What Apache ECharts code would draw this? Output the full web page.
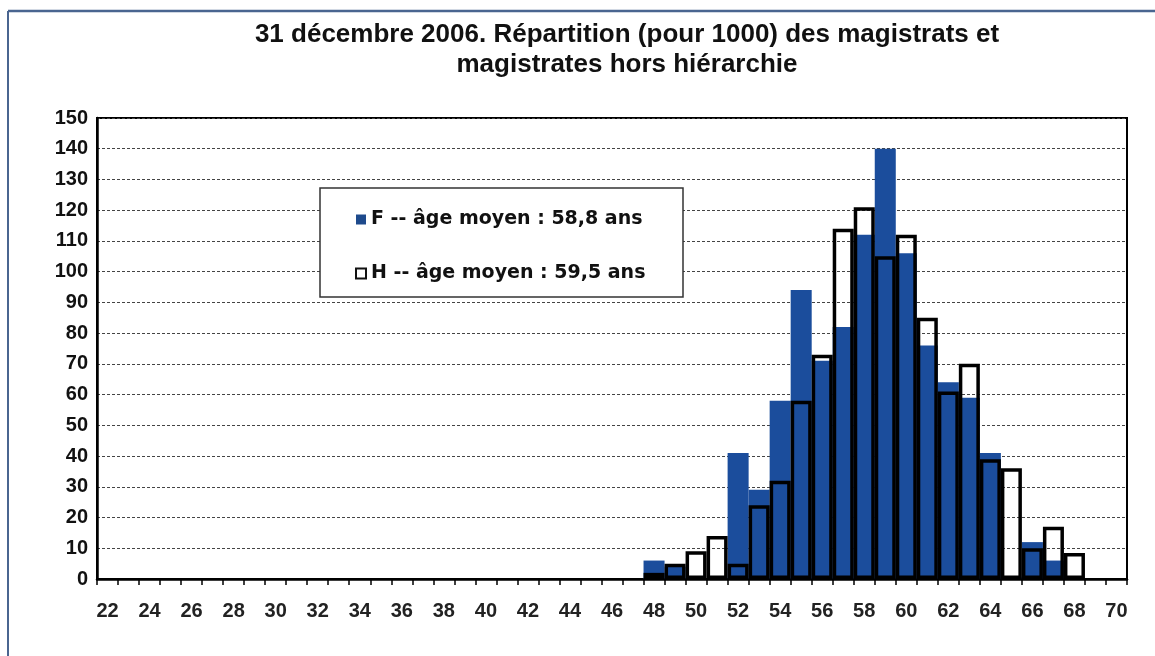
<!DOCTYPE html>
<html>
<head>
<meta charset="utf-8">
<script src="https://cdn.jsdelivr.net/npm/echarts@6/dist/echarts.min.js"></script>
<style>
  html, body { margin: 0; padding: 0; background: #fff; }
  #chart { width: 1155px; height: 656px; }
</style>
</head>
<body>
<div id="chart"></div>
<script>
// ages (one bar per year of age)
const ages = ["22", "23", "24", "25", "26", "27", "28", "29", "30", "31", "32", "33", "34", "35",
  "36", "37", "38", "39", "40", "41", "42", "43", "44", "45", "46", "47", "48", "49", "50", "51",
  "52", "53", "54", "55", "56", "57", "58", "59", "60", "61", "62", "63", "64", "65", "66", "67",
  "68", "69", "70"];

// per 1000, from 48 to 68 (null = no bar)
const femmes = [null, null, null, null, null, null, null, null, null, null, null, null, null, null,
  null, null, null, null, null, null, null, null, null, null, null, null,
  6, 4, 0, 0, 41, 29, 58, 94, 71, 82, 112, 140, 106, 76, 64, 59, 41, 0.5, 12, 6, 0,
  null, null];
const hommes = [null, null, null, null, null, null, null, null, null, null, null, null, null, null,
  null, null, null, null, null, null, null, null, null, null, null, null,
  2, 5, 9, 14, 5, 24, 32, 58, 73, 114, 121, 105, 112, 85, 61, 70, 39, 36, 10, 17, 8.5,
  null, null];

const yTicks = { min: 0, max: 150, interval: 10 };

const labelF = "F -- âge moyen : 58,8 ans";
const labelH = "H -- âge moyen : 59,5 ans";

const chart = echarts.init(document.getElementById("chart"));
const font = "Liberation Sans, Arial, sans-serif";

chart.setOption({
  backgroundColor: "#fff",
  animation: false,
  title: {
    text: "31 décembre 2006. Répartition (pour 1000) des magistrats et\nmagistrates hors hiérarchie",
    left: 622,
    top: 15,
    textAlign: "center",
    textStyle: { fontFamily: font, fontSize: 26, fontWeight: "bold", color: "#111", lineHeight: 30 },
  },
  graphic: [
    { type: "line", shape: { x1: 8, y1: 11, x2: 1155, y2: 11 }, style: { stroke: "#4a6590", lineWidth: 2.5 }, z: 10 },
    { type: "line", shape: { x1: 8, y1: 11, x2: 8, y2: 656 }, style: { stroke: "#4a6590", lineWidth: 2 }, z: 10 },
    {
      type: "rect",
      shape: { x: 320, y: 188, width: 363, height: 109 },
      style: { fill: "#fff", stroke: "#333", lineWidth: 1.5 },
      z: 3,
    },
  ],
  legend: {
    orient: "vertical",
    left: 350,
    top: 205,
    itemGap: 35,
    itemWidth: 10,
    itemHeight: 10,
    z: 5,
    textStyle: { fontFamily: "DejaVu Sans, sans-serif", fontSize: 19, fontWeight: "bold", color: "#111" },
    data: [
      { name: labelF, icon: "rect", itemStyle: { color: "#1e4a8c" } },
      { name: labelH, icon: "rect", itemStyle: { color: "#fff", borderColor: "#111", borderWidth: 2 } },
    ],
  },
  grid: {
    left: 97,
    right: 28,
    top: 118,
    bottom: 77,
    show: true,
    borderColor: "#000",
    borderWidth: 2,
    backgroundColor: "transparent",
  },
  xAxis: {
    type: "category",
    data: ages,
    boundaryGap: true,
    axisLine: { lineStyle: { color: "#000", width: 2.5 } },
    axisTick: { show: true, interval: 0, length: 6, lineStyle: { color: "#000", width: 1.5 } },
    axisLabel: {
      interval: 1,
      margin: 22,
      fontFamily: font,
      fontSize: 20,
      fontWeight: "bold",
      color: "#222",
    },
    splitLine: { show: false },
  },
  yAxis: {
    type: "value",
    min: yTicks.min,
    max: yTicks.max,
    interval: yTicks.interval,
    axisLine: { show: true, lineStyle: { color: "#000", width: 2.5 } },
    axisTick: { show: false },
    axisLabel: {
      margin: 9,
      fontFamily: font,
      fontSize: 20,
      fontWeight: "bold",
      color: (value) => (value === 0 ? "#5a1414" : "#111"),
    },
    splitLine: { lineStyle: { color: "#444", width: 1, type: [3, 2] } },
  },
  series: [
    {
      name: labelF,
      type: "bar",
      data: femmes,
      barCategoryGap: "0%",
      barGap: "-100%",
      itemStyle: { color: "#1b4d9c" },
      z: 2,
    },
    {
      name: labelH,
      type: "bar",
      data: hommes,
      barCategoryGap: "0%",
      barGap: "-100%",
      itemStyle: { color: "rgba(255,255,255,0)", borderColor: "#000", borderWidth: 3.5 },
      z: 3,
    },
  ],
});
</script>
</body>
</html>
